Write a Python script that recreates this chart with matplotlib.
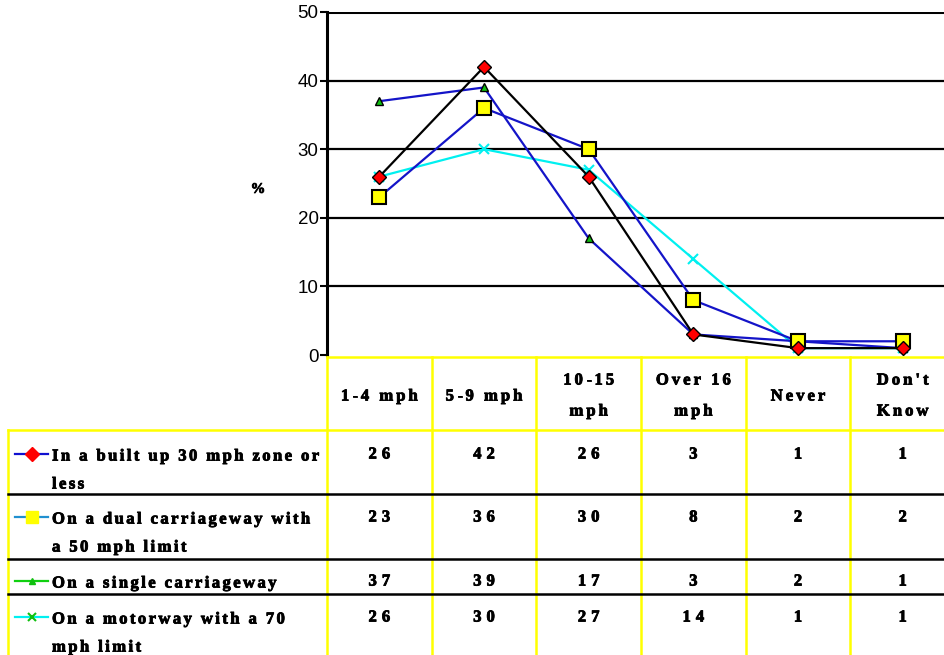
import matplotlib
matplotlib.use("Agg")
from matplotlib import pyplot as plt
from matplotlib.lines import Line2D
from matplotlib.font_manager import FontProperties
from matplotlib.textpath import TextToPath
import matplotlib.patheffects as pe

categories = ["1-4 mph", "5-9 mph", "10-15\nmph", "Over 16\nmph", "Never", "Don't\nKnow"]
series_names = [
    "In a built up 30 mph zone or\nless",
    "On a dual carriageway with\na 50 mph limit",
    "On a single carriageway",
    "On a motorway with a 70\nmph limit",
]
built_up = [26, 42, 26, 3, 1, 1]
dual = [23, 36, 30, 8, 2, 2]
single = [37, 39, 17, 3, 2, 1]
motorway = [26, 30, 27, 14, 1, 1]
all_series = [built_up, dual, single, motorway]
y_ticks = [0, 10, 20, 30, 40, 50]

W, H = 945, 655
BLUE = "#1414C8"
CYAN = "#00F0F0"
YEL = "#FFFF00"

font = FontProperties(family="Liberation Serif", weight="bold", size=12)
heavy = [pe.withStroke(linewidth=0.6, foreground="black")]
t2p = TextToPath()


def advance(c, prop):
    # width of one character in pixels, measured between two fixed glyphs
    w2 = t2p.get_text_width_height_descent("aa", prop, ismath=False)[0]
    w3 = t2p.get_text_width_height_descent("a" + c + "a", prop, ismath=False)[0]
    return (w3 - w2) * 100 / 72


def spaced_text(axes, x, y, s, track=2.0, align="left", prop=font):
    # draw a line of text with extra space between letters; y is the line middle
    widths = [advance(c, prop) for c in s]
    total = sum(widths) + track * (len(s) - 1)
    if align == "center":
        x = x - total / 2
    base = y + prop.get_size_in_points() * 100 / 72 * 0.33
    for c, w in zip(s, widths):
        if c != " ":
            axes.text(x, base, c, fontproperties=prop, ha="left", va="baseline",
                      path_effects=heavy)
        x += w + track


def fx(px):
    return px / W


def fy(py):
    return 1 - py / H


fig = plt.figure(figsize=(W / 100, H / 100), dpi=100)

# chart area, columns line up with the table below
left, right, top, bottom = 327, 955, 12, 355
ax = fig.add_axes([fx(left), fy(bottom), fx(right - left), (bottom - top) / H])
x = list(range(len(categories)))
ax.set_xlim(-0.5, len(categories) - 0.5)
ax.set_ylim(0, 50)
ax.set_yticks(y_ticks)
ax.set_yticklabels([str(t) for t in y_ticks], fontsize=13.5, family="Liberation Sans")
ax.set_xticks([])
ax.tick_params(axis="y", length=5, width=1.5, pad=1)
for s in ["top", "right", "bottom"]:
    ax.spines[s].set_visible(False)
ax.spines["left"].set_linewidth(2.2)
for t in y_ticks[1:]:
    ax.axhline(t, color="black", lw=1.6 if t < 50 else 2.2, zorder=1)

ax.plot(x, motorway, color=CYAN, lw=1.6, marker="x", ms=7, mew=1.5, mec=CYAN, zorder=3)
ax.plot(x, single, color=BLUE, lw=1.6, marker="^", ms=6, mfc="#10C010", mec="black", mew=1, zorder=4)
ax.plot(x, dual, color=BLUE, lw=1.6, marker="s", ms=10, mfc=YEL, mec="black", mew=1.5, zorder=5)
ax.plot(x, built_up, color="black", lw=1.6, marker="D", ms=7, mfc="red", mec="black", mew=1, zorder=6)

# table drawn on a full-figure overlay in pixel coordinates
tb = fig.add_axes([0, 0, 1, 1])
tb.set_xlim(0, W)
tb.set_ylim(H, 0)
tb.axis("off")

spaced_text(tb, 258, 188, "%", align="center",
            prop=FontProperties(family="Liberation Serif", weight="bold", size=10.5))

col_w = (right - left) / len(categories)
col_edges = [left + col_w * i for i in range(len(categories) + 1)]
row_edges = [357, 430, 494, 559, 594, 655]

for xe in col_edges:
    tb.plot([xe, xe], [row_edges[0], H], color=YEL, lw=1.8, zorder=2)
tb.plot([8, 8], [row_edges[1], H], color=YEL, lw=1.8)
tb.plot([left, W], [row_edges[0], row_edges[0]], color=YEL, lw=1.8)
tb.plot([8, W], [row_edges[1], row_edges[1]], color=YEL, lw=1.8)
for ye in row_edges[2:5]:
    tb.plot([8, W], [ye, ye], color="black", lw=1.8, zorder=3)

for i, c in enumerate(categories):
    cx = col_edges[i] + col_w / 2
    lines = c.split("\n")
    ys = [395] if len(lines) == 1 else [379, 410]
    for ln, yy in zip(lines, ys):
        spaced_text(tb, cx, yy, ln, track=3.0, align="center")

legend_styles = [
    dict(color="#1010D0", marker="D", mfc="red", mec="red", ms=7),
    dict(color="#2090D0", marker="s", mfc=YEL, mec=YEL, ms=9),
    dict(color="#10D010", marker="^", mfc="#10C010", mec="#10C010", ms=5),
    dict(color=CYAN, marker="x", mfc="#10C010", mec="#10C010", ms=6, mew=1.5),
]
first_line_y = [455, 518, 582, 618]
for r, (name, vals) in enumerate(zip(series_names, all_series)):
    y0 = first_line_y[r]
    tb.add_line(Line2D([15, 31.5, 48], [y0 - 1] * 3, lw=1.6, markevery=[1],
                       **legend_styles[r]))
    for k, ln in enumerate(name.split("\n")):
        spaced_text(tb, 52, y0 + 28 * k, ln, track=2.4)
    for i, v in enumerate(vals):
        cx = col_edges[i] + col_w / 2
        spaced_text(tb, cx, y0 - 2, str(v), track=5.0, align="center")

fig.savefig("out.png", dpi=100)
plt.close()
